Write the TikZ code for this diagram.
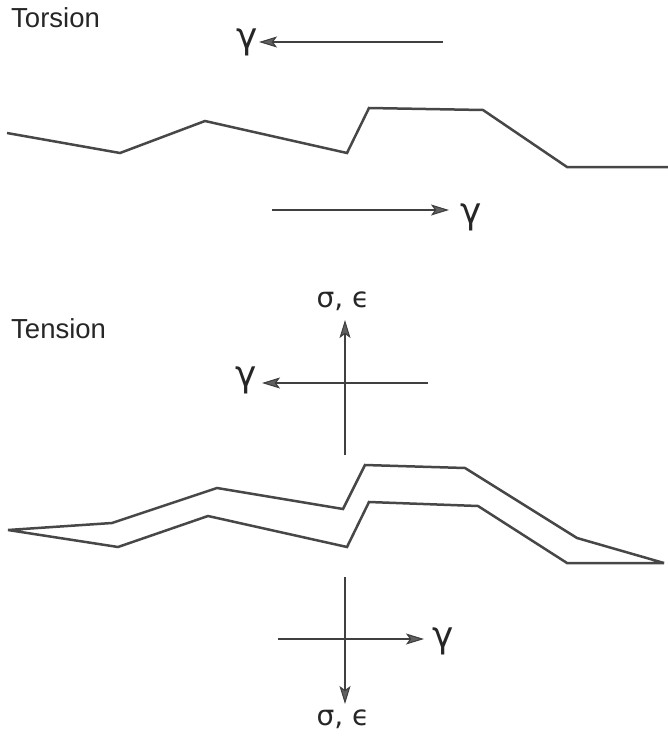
\documentclass[tikz,border=0pt]{standalone}
\usepackage{fontspec}
\setmainfont{Liberation Sans}
\newfontfamily\greekfont{DejaVu Sans}
\usetikzlibrary{arrows.meta}
\tikzset{
  curve/.style={line width=2.5pt, draw=black!72, line join=miter, miter limit=3},
  axis/.style={line width=1.1pt, draw=black!75},
  arr/.style={axis, -{Stealth[length=18pt,width=11pt,inset=4pt,fill=black!62]}},
  title/.style={anchor=base west, inner sep=0pt, font=\fontsize{27.5}{30}\selectfont, text=black!85},
  glab/.style={inner sep=0pt, font=\greekfont\fontsize{36}{40}\selectfont, text=black!85},
  slab/.style={inner sep=0pt, font=\greekfont\fontsize{28}{32}\selectfont, text=black!85}
}
\begin{document}
\begin{tikzpicture}[x=1pt,y=-1pt]
\useasboundingbox (0,0) rectangle (668,737);

% ---------- Torsion ----------
\node[title] (torsion) at (11,27) {Torsion};

\coordinate (ta1) at (443,42);
\coordinate (ta2) at (259,42);
\draw[arr] (ta1) -- (ta2);
\node[glab] (tg1) at (247,42) {γ};

\coordinate (tb1) at (272,210);
\coordinate (tb2) at (449,210);
\draw[arr] (tb1) -- (tb2);
\node[glab] (tg2) at (471,217) {γ};

\draw[curve] (7,133) -- (120,153) -- (205,121) -- (347,153) -- (369,108)
  -- (483,110) -- (567,167) -- (668,167);

% ---------- Tension ----------
\node[title] (tension) at (11,338) {Tension};

\coordinate (va0) at (345,455);
\coordinate (va1) at (345,320);
\draw[arr] (va0) -- (va1);
\node[slab] (se1) at (343,301) {σ, ϵ};

\coordinate (ha0) at (428,383);
\coordinate (ha1) at (262,383);
\draw[arr] (ha0) -- (ha1);
\node[glab] (tg3) at (246,380) {γ};

\draw[curve] (8,530) -- (112,523) -- (217,488) -- (343,509) -- (365,465)
  -- (465,468) -- (577,538) -- (664,563) -- (567,563) -- (478,506)
  -- (369,502) -- (347,547) -- (208,516) -- (118,547) -- cycle;

\coordinate (vb0) at (345,577);
\coordinate (vb1) at (345,704);
\draw[arr] (vb0) -- (vb1);
\node[slab] (se2) at (343,719) {σ, ϵ};

\coordinate (hb0) at (278,639);
\coordinate (hb1) at (424,639);
\draw[arr] (hb0) -- (hb1);
\node[glab] (tg4) at (443,641) {γ};
\end{tikzpicture}
\end{document}
